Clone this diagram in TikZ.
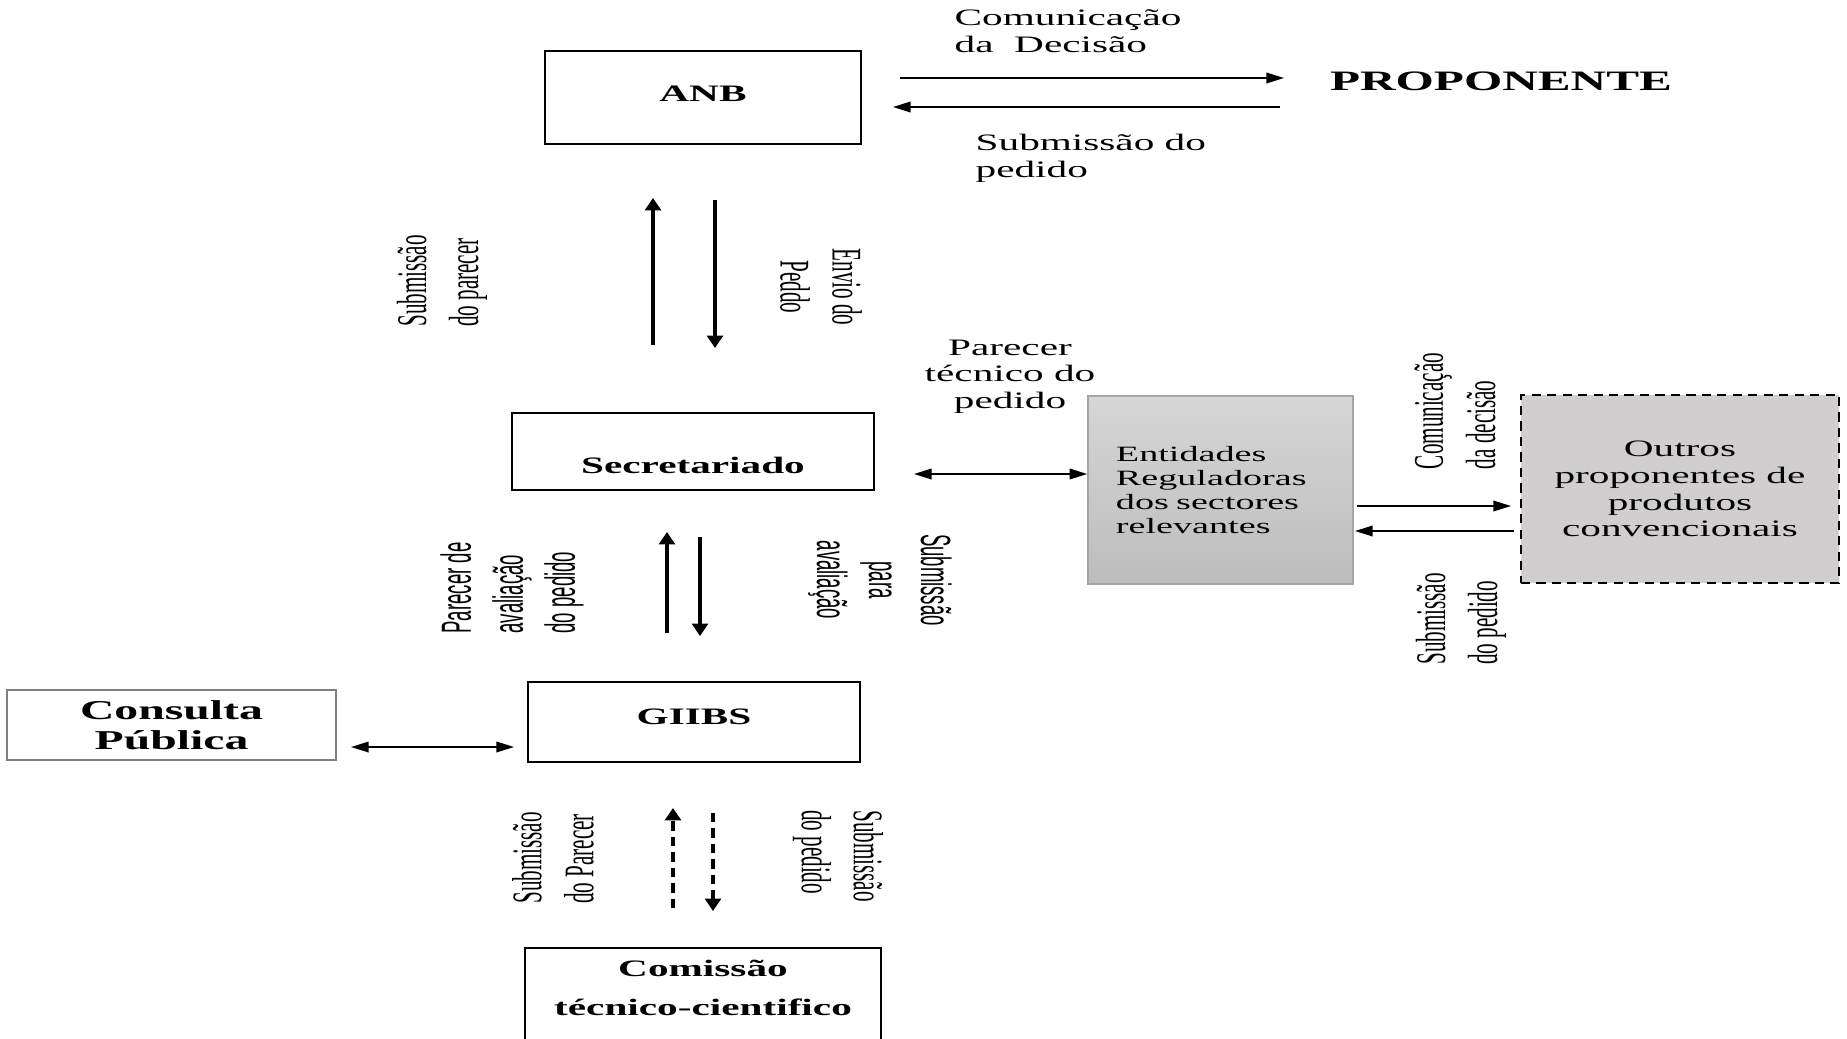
\documentclass[tikz,border=0pt]{standalone}
\usepackage{fontspec}
\setmainfont{Liberation Serif}
\newfontfamily\widefont{Liberation Serif}[FakeStretch=1.75]
\newfontfamily\narrowfont{Liberation Serif}[FakeStretch=0.5]
\newfontfamily\narrowsans{Liberation Sans}[FakeStretch=0.44]
\usetikzlibrary{arrows.meta}
\definecolor{outrosgray}{RGB}{208,206,206}
\definecolor{entborder}{RGB}{165,165,165}

\tikzset{
  caixa/.style={draw, line width=0.7pt, inner sep=0pt, font=\fontsize{6.7}{8}\widefont\bfseries},
  txt/.style={inner sep=0pt, font=\fontsize{6.7}{7.5}\widefont},
  rot/.style={inner sep=0pt, font=\fontsize{12}{14.8}\narrowfont},
  rotsans/.style={inner sep=0pt, font=\fontsize{12}{14.8}\narrowsans},
  harr/.style={-{Triangle[length=5pt,width=3pt]}, line width=0.5pt},
  hdarr/.style={{Triangle[length=5pt,width=3pt]}-{Triangle[length=5pt,width=3pt]}, line width=0.5pt},
  varr/.style={-{Triangle[length=3.5pt,width=4.5pt]}, line width=0.9pt},
  tracejado/.style={dash pattern=on 2.6pt off 1.8pt}
}

\begin{document}
\begin{tikzpicture}[x=0.01cm, y=-0.01cm]
  \useasboundingbox (0,0) rectangle (1847,1039);
  \clip (0,0) rectangle (1847,1039);

  % Caixas
  \node[caixa, minimum width=3.16cm, minimum height=0.93cm, text depth=2.4pt] (anb) at (703,97.5) {ANB};
  \node[caixa, minimum width=3.62cm, minimum height=0.77cm, text height=12.4pt, text depth=0pt] (sec) at (693,451.5) {Secretariado};
  \node[caixa, minimum width=3.32cm, minimum height=0.80cm, text depth=3.2pt] (giibs) at (694,722) {GIIBS};
  \node[caixa, draw=gray, line width=0.4pt, minimum width=3.29cm, minimum height=0.70cm, align=center,
        text depth=-1.4pt, font=\fontsize{7.75}{8.5}\widefont\bfseries] (cons) at (171.5,725) {Consulta\\Pública};
  \node[caixa, anchor=north, minimum width=3.56cm, minimum height=1.3cm] (com) at (703,947) {};
  \node[caixa, draw=none, align=center] (comtxt) at (703,988) {Comissão\\[3.2pt]técnico-cientifico};
  \node[txt, draw=entborder, line width=0.4pt, top color=black!16, bottom color=black!26,
        minimum height=1.88cm, text width=2.09cm, inner xsep=0.28cm, align=left,
        font=\fontsize{6.2}{6.9}\widefont] (ent) at (1220.5,490) {Entidades\\Reguladoras\\dos sectores\\relevantes};
  \node[txt, draw, tracejado, line width=0.5pt, fill=outrosgray, minimum width=3.18cm, minimum height=1.88cm,
        text depth=-2pt, align=center, font=\fontsize{6.7}{7.6}\widefont] (outros) at (1680,489) {Outros\\proponentes de\\produtos\\convencionais};
  \node[txt, font=\fontsize{8}{9}\widefont\bfseries] (prop) at (1501,81) {PROPONENTE};

  % Setas horizontais
  \coordinate (d1) at (900,78);   \coordinate (d2) at (1284,78);
  \coordinate (s1) at (1280,107); \coordinate (s2) at (893,107);
  \draw[harr] (d1) -- (d2);
  \draw[harr] (s1) -- (s2);
  \coordinate (p1) at (914,474);
  \draw[hdarr] (p1) -- (ent.west |- p1);
  \coordinate (c1) at (351,747);  \coordinate (c2) at (514,747);
  \draw[hdarr] (c1) -- (c2);
  \coordinate (e1) at (1357,506); \coordinate (e2) at (1511,506);
  \coordinate (e3) at (1514,531); \coordinate (e4) at (1355,531);
  \draw[harr] (e1) -- (e2);
  \draw[harr] (e3) -- (e4);

  % Setas verticais
  \coordinate (u1) at (653,345); \coordinate (u2) at (653,198);
  \coordinate (w1) at (715,200); \coordinate (w2) at (715,348);
  \draw[varr] (u1) -- (u2);
  \draw[varr] (w1) -- (w2);
  \coordinate (u3) at (667,633); \coordinate (u4) at (667,532);
  \coordinate (w3) at (700,537); \coordinate (w4) at (700,636);
  \draw[varr] (u3) -- (u4);
  \draw[varr] (w3) -- (w4);
  \coordinate (u5) at (673,908); \coordinate (u6) at (673,808);
  \coordinate (w5) at (713,813); \coordinate (w6) at (713,911);
  \draw[varr, tracejado] (u5) -- (u6);
  \draw[varr, tracejado] (w5) -- (w6);

  % Legendas
  \node[txt, anchor=west, align=left] (comdec) at (954,31) {Comunicação\\da\ \ Decisão};
  \node[txt, anchor=west, align=left] (subped) at (975,158.5) {Submissão do\\pedido};
  \node[txt, align=center] (partec) at (1010,376.5) {Parecer\\técnico do\\pedido};
  \node[rot, rotate=90, align=left] (subpar) at (442,281) {Submissão\\do parecer};
  \node[rot, rotate=-90, align=center] (envio) at (821,287) {Envio do\\Peddo};
  \node[rotsans, rotate=90, align=left] (paraval) at (512,588) {Parecer de\\avaliação\\do pedido};
  \node[rotsans, rotate=-90, align=center] (subaval) at (880,580) {Submissão\\para\\avaliação};
  \node[rot, rotate=90, align=left] (subparc) at (553,858) {Submissão\\do Parecer};
  \node[rot, rotate=-90, align=left] (subpedc) at (838,856) {Submissão\\do pedido};
  \node[rot, rotate=90, align=left] (comdec2) at (1455,411) {Comunicação\\da decisão};
  \node[rot, rotate=90, align=left] (subped2) at (1461,619) {Submissão\\do pedido};

\end{tikzpicture}
\end{document}
